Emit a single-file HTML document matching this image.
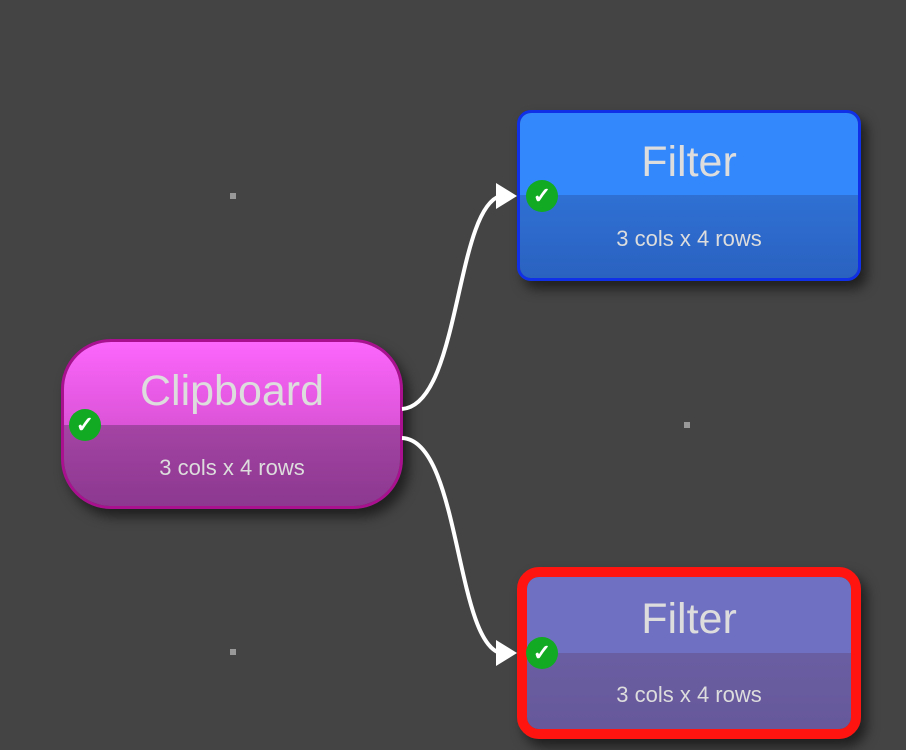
<!DOCTYPE html>
<html><head><style>
body{margin:0;width:906px;height:750px;background:#444;overflow:hidden;position:relative;font-family:"Liberation Sans",sans-serif}
.n{position:absolute;box-sizing:border-box;overflow:hidden;box-shadow:6px 8px 12px rgba(0,0,0,.55)}
.t{position:absolute;left:0;right:0;text-align:center;color:#ddd}
.dot{position:absolute;width:6px;height:6px;background:#999}
.ck{position:absolute;width:32px;height:32px;border-radius:50%;background:#11aa22;color:#fff;font-size:22px;line-height:32px;text-align:center;font-weight:bold}
</style></head><body>
<div class="dot" style="left:230px;top:193px"></div>
<div class="dot" style="left:684px;top:422px"></div>
<div class="dot" style="left:230px;top:649px"></div>

<div class="n" style="left:61px;top:339px;width:342px;height:170px;border:3px solid #a8108f;border-radius:50px">
 <div style="position:absolute;left:0;right:0;top:0;height:83px;background:linear-gradient(#fc66fc,#dc54d8)"></div>
 <div style="position:absolute;left:0;right:0;top:83px;bottom:0;background:linear-gradient(#a444a4,#8c3890)"></div>
 <div class="t" style="top:25px;font-size:43px">Clipboard</div>
 <div class="t" style="top:113px;font-size:22px">3 cols x 4 rows</div>
</div>

<div class="n" style="left:517px;top:110px;width:344px;height:171px;border:3px solid #1030e8;border-radius:14px">
 <div style="position:absolute;left:0;right:0;top:0;height:82px;background:#3388fc"></div>
 <div style="position:absolute;left:0;right:0;top:82px;bottom:0;background:linear-gradient(#2f70d4,#2a62c0)"></div>
 <div class="t" style="top:25px;font-size:43px">Filter</div>
 <div class="t" style="top:113px;font-size:22px">3 cols x 4 rows</div>
</div>

<div class="n" style="left:517px;top:567px;width:344px;height:172px;border:10px solid #ff1410;border-radius:22px">
 <div style="position:absolute;left:0;right:0;top:0;height:76px;background:#7070c2"></div>
 <div style="position:absolute;left:0;right:0;top:76px;bottom:0;background:linear-gradient(#6a5ea2,#66589a)"></div>
 <div class="t" style="top:18px;font-size:43px">Filter</div>
 <div class="t" style="top:105px;font-size:22px">3 cols x 4 rows</div>
</div>

<svg width="906" height="750" style="position:absolute;left:0;top:0">
 <path d="M402 409 C460 405,455 210,500 196" stroke="#fff" stroke-width="4" fill="none"/>
 <polygon points="517,196 496,183 496,209" fill="#fff"/>
 <path d="M402 438 C460 440,455 640,500 653" stroke="#fff" stroke-width="4" fill="none"/>
 <polygon points="517,653 496,640 496,666" fill="#fff"/>
</svg>

<div class="ck" style="left:69px;top:409px">✓</div>
<div class="ck" style="left:526px;top:180px">✓</div>
<div class="ck" style="left:526px;top:637px">✓</div>
</body></html>
